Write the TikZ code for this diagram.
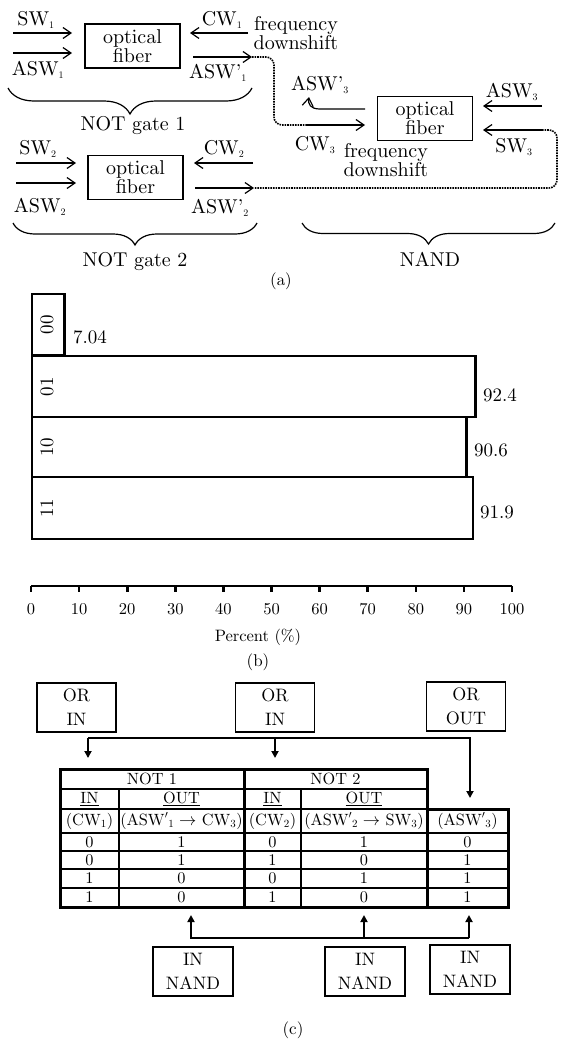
\documentclass[tikz,border=0pt]{standalone}
\usetikzlibrary{arrows.meta,decorations.pathreplacing,calc}
\newcommand{\sbs}[1]{$_{\scriptscriptstyle #1}$}
\font\fA=cmr10 at 20pt
\font\fV=cmr10 at 19pt
\font\fX=cmr10 at 16.5pt
\font\fG=cmr10 at 18pt
\font\fT=cmr10 at 16.3pt
\font\fC=cmr10 at 17pt
\begin{document}
\begin{tikzpicture}[x=1pt,y=-1pt,
  fa/.style={font=\fontsize{20}{19}\selectfont\fA},
  fiber/.style={draw,line width=1.3pt,minimum width=95pt,minimum height=44pt,align=center,inner sep=0pt,fa},
  sig/.style={line width=1.2pt,-{Straight Barb[length=8pt,width=11pt,line width=1.2pt]}},
  lbl/.style={fa,inner sep=0pt,align=center},
  dots/.style={line width=1.6pt,densely dotted,rounded corners=8pt},
  brc/.style={line width=1.2pt,decorate,decoration={brace,mirror,amplitude=#1}},
  bar/.style={draw,line width=2.8pt},
  vb/.style={font=\fontsize{19}{20}\selectfont\fV,inner sep=0pt},
  ax/.style={font=\fontsize{16.5}{18}\selectfont\fX,inner sep=0pt},
  gbox/.style={draw,line width=1.8pt,minimum width=79pt,minimum height=49pt,align=center,inner sep=0pt,font=\fontsize{18}{24}\selectfont\fG},
  arr/.style={line width=2pt,-{Triangle[length=7pt,width=7pt]}},
  tc/.style={font=\fontsize{16.3}{18}\selectfont\fT,inner sep=0pt},
  thk/.style={line width=3pt},
  thn/.style={line width=1.8pt},
  captxt/.style={font=\fontsize{17}{18}\selectfont\fC,inner sep=0pt}
]
\fill[white] (0,0) rectangle (561,1044);
\useasboundingbox (0,0) rectangle (561,1044);

% ---------------- (a) ----------------
\node[fiber] (f1) at (132.5,46) {optical\\fiber};
\node[fiber] (f2) at (135.5,177.5) {optical\\fiber};
\node[fiber] (f3) at (425,118.5) {optical\\fiber};

% NOT gate 1
\coordinate (sw1s) at (13,33);  \coordinate (sw1e) at (72,33);
\coordinate (as1s) at (13,53);  \coordinate (as1e) at (72,53);
\coordinate (cw1s) at (248,33); \coordinate (cw1e) at (190,33);
\coordinate (ap1s) at (193,57); \coordinate (ap1e) at (252,57);
\draw[sig] (sw1s) -- (sw1e);
\draw[sig] (as1s) -- (as1e);
\draw[sig] (cw1s) -- (cw1e);
\draw[sig] (ap1s) -- (ap1e);
\node[lbl] (lsw1) at (36,20) {SW\sbs1};
\node[lbl] (las1) at (38,70) {ASW\sbs1};
\node[lbl] (lcw1) at (222,20) {CW\sbs1};
\node[lbl] (lap1) at (218,73) {ASW'\sbs1};
\node[lbl] (fd1) at (296,33) {frequency\\downshift};
\draw[brc=26pt] (8,88) -- (252,88);
\node[lbl] (ng1) at (133,126) {NOT gate 1};

% NOT gate 2
\coordinate (sw2s) at (16,163);  \coordinate (sw2e) at (76,163);
\coordinate (as2s) at (16,183);  \coordinate (as2e) at (76,183);
\coordinate (cw2s) at (253,163); \coordinate (cw2e) at (194,163);
\coordinate (ap2s) at (195,188); \coordinate (ap2e) at (254,188);
\draw[sig] (sw2s) -- (sw2e);
\draw[sig] (as2s) -- (as2e);
\draw[sig] (cw2s) -- (cw2e);
\draw[sig] (ap2s) -- (ap2e);
\node[lbl] (lsw2) at (38,149) {SW\sbs2};
\node[lbl] (las2) at (40,207) {ASW\sbs2};
\node[lbl] (lcw2) at (224,149) {CW\sbs2};
\node[lbl] (lap2) at (220,208) {ASW'\sbs2};
\draw[brc=22pt] (13,223) -- (257,223);
\node[lbl] (ng2) at (135,262) {NOT gate 2};

% NAND
\coordinate (cw3s) at (307,125); \coordinate (cw3e) at (365,125);
\coordinate (a3s) at (365,109);  \coordinate (a3e) at (309,97);
\coordinate (as3s) at (542,106); \coordinate (as3e) at (483,106);
\coordinate (sw3s) at (542,130); \coordinate (sw3e) at (483,130);
\draw[sig] (cw3s) -- (cw3e);
\draw[sig] (a3s) -- (320,109) .. controls (310,109) and (308,104) .. (a3e);
\draw[sig] (as3s) -- (as3e);
\draw[sig] (sw3s) -- (sw3e);
\node[lbl] (la3) at (320,85) {ASW'\sbs3};
\node[lbl] (lcw3) at (315,145) {CW\sbs3};
\node[lbl] (fd3) at (386,160) {frequency\\downshift};
\node[lbl] (las3) at (512,92) {ASW\sbs3};
\node[lbl] (lsw3) at (514,147) {SW\sbs3};
\draw[brc=21pt] (302,223) -- (555,223);
\node[lbl] (nd) at (430,260) {NAND};

% dotted links
\draw[dots] (ap1e) -- ++(22,0) |- (cw3s);
\draw[dots] (sw3s) -- ++(15,0) |- (ap2e);

\node[captxt] (capa) at (281,281) {(a)};

% ---------------- (b) ----------------
\foreach \v/\ya/\yb/\nm/\lx/\ly in {7.04/294/355/00/90/337, 92.4/356/417/01/500/395, 90.6/417/477/10/491/450, 91.9/477/539/11/497/512}{
  \draw[bar] (32,\ya) rectangle ({31+4.81*\v},\yb);
  \node[vb,rotate=90] at (47,{(\ya+\yb)/2}) {\nm};
  \node[vb] at (\lx,\ly) {\v};
}
\draw[line width=2.6pt] (31,586) -- (512,586);
\foreach \i in {0,...,10}{
  \draw[line width=2.6pt] ({31+48.1*\i},586) -- ({31+48.1*\i},592);
  \pgfmathtruncatemacro{\val}{10*\i}
  \node[ax] at ({31+48.1*\i},609) {\val};
}
\node[ax] (pc) at (258,637) {Percent (\%)};
\node[captxt] (capb) at (258,662) {(b)};

% ---------------- (c) ----------------
\node[gbox] (or1) at (76.5,707.5) {OR\\IN};
\node[gbox] (or2) at (275,707.5) {OR\\IN};
\node[gbox] (or3) at (466,706.5) {OR\\OUT};
\coordinate (j1) at (88,738); \coordinate (j2) at (275,738); \coordinate (j3) at (470,738);
\coordinate (t1) at (88,758); \coordinate (t2) at (275,758); \coordinate (t3) at (470,798);
\draw[arr] (j1) -- (t1);
\draw[arr] (j2) -- (t2);
\draw[arr] (j1) -- (j3) -- (t3);

% table
\draw[thn] (60,789) -- (427,789);
\draw[thn] (60,809) -- (427,809);
\foreach \y in {833,851,869,888} \draw[thn] (60,\y) -- (508,\y);
\draw[thn] (119,789) -- (119,907);
\draw[thn] (301,789) -- (301,907);
\draw[thk] (60,769) rectangle (427,907);
\draw[thk] (427,809) rectangle (508,907);
\draw[thk] (244,769) -- (244,907);

\node[tc] at (152,779) {NOT 1};
\node[tc] at (335.5,779) {NOT 2};
\node[tc] at (89.5,799) {\underline{IN}};
\node[tc] at (181.5,799) {\underline{OUT}};
\node[tc] at (272.5,799) {\underline{IN}};
\node[tc] at (364,799) {\underline{OUT}};
\node[tc] at (89.5,821) {(CW$_1$)};
\node[tc] at (181.5,821) {(ASW$'{}_1\rightarrow$ CW$_3$)};
\node[tc] at (272.5,821) {(CW$_2$)};
\node[tc] at (364,821) {(ASW$'{}_2\rightarrow$ SW$_3$)};
\node[tc] at (467.5,821) {(ASW$'{}_3$)};
\foreach \a/\b/\c/\d/\e/\y in {0/1/0/1/0/842, 0/1/1/0/1/860, 1/0/0/1/1/878.5, 1/0/1/0/1/897.5}{
  \node[tc] at (89.5,\y) {\a};
  \node[tc] at (181.5,\y) {\b};
  \node[tc] at (272.5,\y) {\c};
  \node[tc] at (364,\y) {\d};
  \node[tc] at (467.5,\y) {\e};
}

\coordinate (k1) at (191,938); \coordinate (k2) at (364,938); \coordinate (k3) at (469,938);
\coordinate (u1) at (191,915); \coordinate (u2) at (364,915); \coordinate (u3) at (469,915);
\draw[arr] (k3) -- (k1) -- (u1);
\draw[arr] (k2) -- (u2);
\draw[arr] (k3) -- (u3);
\node[gbox,minimum width=80pt] (n1) at (193,971.5) {IN\\NAND};
\node[gbox,minimum width=80pt] (n2) at (365,971.5) {IN\\NAND};
\node[gbox,minimum width=80pt] (n3) at (470,969.5) {IN\\NAND};

\node[captxt] (capc) at (293,1030) {(c)};
\end{tikzpicture}
\end{document}
